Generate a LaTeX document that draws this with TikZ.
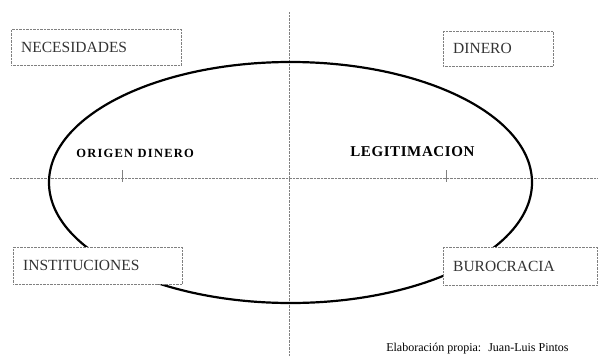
\documentclass[tikz,border=0pt]{standalone}
\usepackage{fontspec}
\setmainfont{Liberation Serif}
\usetikzlibrary{positioning}

\begin{document}
\begin{tikzpicture}
[x=1pt,y=-1pt,semithick]\tikzstyle{caja}
=[draw=gray,densely dotted,thin,fill=white,text=black!80,anchor=north west,
  inner xsep=10pt,inner ysep=0pt,align=left,font=\fontsize{15.5}{17}\selectfont]
\tikzstyle{eje}=[gray,densely dotted,thin]
\tikzstyle{marca}=[gray,thin]
\useasboundingbox (0,0) rectangle (602,356);

% ejes
\coordinate (izq) at (10,178);
\coordinate (der) at (597,178);
\coordinate (arr) at (289,12);
\coordinate (aba) at (289,356);
\draw[eje] (izq) -- (der);
\draw[eje] (arr) -- (aba);
\coordinate (m1) at (122,170);
\coordinate (m2) at (446,170);
\draw[marca] (m1) -- ++(0,12);
\draw[marca] (m2) -- ++(0,12);

% elipse
\coordinate (centro) at (290.5,182.5);
\draw[line width=2.2pt] (centro) ellipse [x radius=241.5, y radius=120.5];

% cajas
\node[caja, minimum width=170pt, minimum height=36pt, text width=150pt] (nec) at (11,29) {NECESIDADES};
\node[caja, minimum width=110pt, minimum height=35pt, text width=90pt] (din) at (443,31) {DINERO};
\node[caja, minimum width=169pt, minimum height=37pt, text width=149pt] (inst) at (13,247) {INSTITUCIONES};
\node[caja, minimum width=154pt, minimum height=38pt, text width=134pt] (buro) at (443,247) {BUROCRACIA};

% rotulos
\node[anchor=base west, inner sep=0pt, font=\fontsize{12.5}{14}\selectfont\bfseries\addfontfeature{LetterSpace=10}] (origen) at (76,157) {ORIGEN DINERO};
\node[anchor=base west, inner sep=0pt, font=\fontsize{15}{17}\selectfont\bfseries\addfontfeature{LetterSpace=4}] (legit) at (350,156) {LEGITIMACION};
\node[anchor=base west, inner sep=0pt, font=\fontsize{12}{14}\selectfont] (fuente) at (386,351) {Elaboración propia:~ Juan-Luis Pintos};
\end{tikzpicture}
\end{document}
